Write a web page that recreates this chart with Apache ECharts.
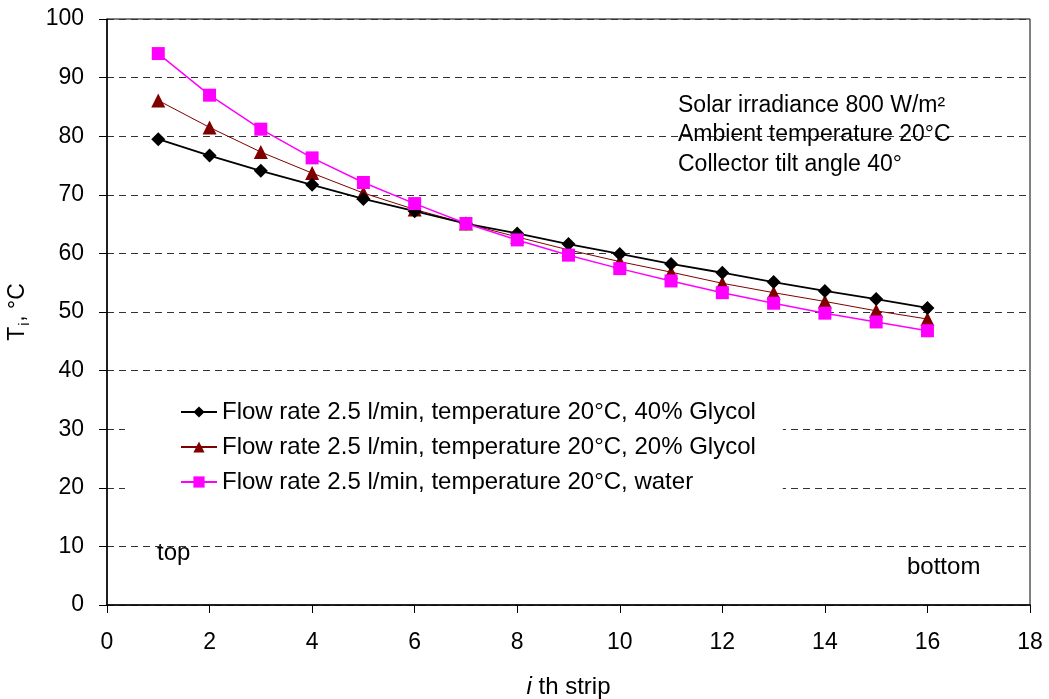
<!DOCTYPE html>
<html>
<head>
<meta charset="utf-8">
<script src="https://cdn.jsdelivr.net/npm/echarts@6/dist/echarts.min.js"></script>
<style>
  html, body { margin: 0; padding: 0; background: #fff; }
  #chart { width: 1049px; height: 699px; }
</style>
</head>
<body>
<div id="chart"></div>
<script>
// strip index, top -> bottom
const strips = [1, 2, 3, 4, 5, 6, 7, 8, 9, 10, 11, 12, 13, 14, 15, 16];

// strip temperature, °C
const glycol40 = [79.5, 76.7, 74.1, 71.7, 69.3, 67.2, 65.1, 63.4, 61.6, 59.9, 58.2, 56.7, 55.1, 53.6, 52.2, 50.7];
const glycol20 = [86.1, 81.5, 77.3, 73.7, 70.3, 67.5, 65.1, 62.8, 60.6, 58.6, 56.8, 54.9, 53.3, 51.8, 50.2, 48.8];
const water = [94.1, 87.0, 81.2, 76.3, 72.1, 68.5, 65.1, 62.3, 59.7, 57.4, 55.3, 53.3, 51.5, 49.8, 48.3, 46.8];

const seriesNames = [
    'Flow rate 2.5 l/min, temperature 20°C, 40% Glycol',
    'Flow rate 2.5 l/min, temperature 20°C, 20% Glycol',
    'Flow rate 2.5 l/min, temperature 20°C, water',
];

const noteLines = [
    'Solar irradiance 800 W/m²',
    'Ambient temperature 20°C',
    'Collector tilt angle 40°',
];

const FONT = '"Liberation Sans", Arial, sans-serif';

const pairs = (ys) => strips.map((x, i) => [x, ys[i]]);

const chart = echarts.init(document.getElementById('chart'));

const option = {
    animation: false,
    backgroundColor: '#fff',
    textStyle: { fontFamily: FONT },
    grid: {
        left: 107,
        right: 19,
        top: 19,
        bottom: 94,
        outerBoundsMode: 'none',
        show: true,
        borderColor: '#000',
        borderWidth: 1,
        backgroundColor: 'transparent',
    },
    legend: {
        orient: 'vertical',
        left: 125,
        top: 392,
        padding: [8, 27, 8, 55],
        backgroundColor: '#fff',
        itemWidth: 36,
        itemHeight: 14,
        itemGap: 11,
        textStyle: { fontSize: 24, color: '#000', fontFamily: FONT },
        data: seriesNames,
    },
    xAxis: {
        type: 'value',
        min: 0,
        max: 18,
        interval: 2,
        name: '{i|i} th strip',
        nameLocation: 'middle',
        nameGap: 70,
        nameTextStyle: {
            fontSize: 24,
            color: '#000',
            rich: {
                i: { fontSize: 24, fontStyle: 'italic', color: '#000', fontFamily: FONT },
            },
        },
        axisLine: { lineStyle: { color: '#000', width: 1.5 } },
        axisTick: { inside: false, length: 8, lineStyle: { color: '#000' } },
        axisLabel: { fontSize: 23, color: '#000', margin: 26 },
        splitLine: { show: false },
    },
    yAxis: {
        type: 'value',
        min: 0,
        max: 100,
        interval: 10,
        name: '{t|T}{s|i}{t|, °C}',
        nameLocation: 'middle',
        nameGap: 75,
        nameTextStyle: {
            color: '#000',
            rich: {
                t: { fontSize: 23, color: '#000', fontFamily: FONT, lineHeight: 28 },
                s: { fontSize: 14, color: '#000', fontFamily: FONT, verticalAlign: 'bottom', lineHeight: 14, padding: [0, 1, 0, 1] },
            },
        },
        axisLine: { show: true, lineStyle: { color: '#000', width: 1.5 } },
        axisTick: { show: true, inside: false, length: 8, lineStyle: { color: '#000' } },
        axisLabel: { fontSize: 23, color: '#000', margin: 23 },
        splitLine: { show: true, lineStyle: { color: '#333', type: [7, 5], width: 1 } },
    },
    series: [
        {
            name: seriesNames[0],
            type: 'line',
            data: pairs(glycol40),
            symbol: 'diamond',
            symbolSize: 14,
            color: '#000000',
            lineStyle: { width: 1.8, color: '#000000' },
            itemStyle: { color: '#000000' },
            z: 3,
        },
        {
            name: seriesNames[1],
            type: 'line',
            data: pairs(glycol20),
            symbol: 'triangle',
            symbolSize: 14,
            color: '#800000',
            lineStyle: { width: 1, color: '#800000' },
            itemStyle: { color: '#800000' },
            z: 2,
        },
        {
            name: seriesNames[2],
            type: 'line',
            data: pairs(water),
            symbol: 'rect',
            symbolSize: 13,
            color: '#ff00ff',
            lineStyle: { width: 1.5, color: '#ff00ff' },
            itemStyle: { color: '#ff00ff' },
            z: 4,
        },
    ],
    graphic: [
        ...noteLines.map((t, i) => ({
            type: 'text',
            left: 678,
            top: 94 + i * 29.5,
            z: 10,
            style: { text: t, font: '23px ' + FONT, fill: '#000' },
        })),
        {
            type: 'text',
            left: 157,
            top: 541,
            style: { text: 'top', font: '24px ' + FONT, fill: '#000' },
        },
        {
            type: 'text',
            left: 907,
            top: 555,
            style: { text: 'bottom', font: '24px ' + FONT, fill: '#000' },
        },
    ],
};

chart.setOption(option);
</script>
</body>
</html>
